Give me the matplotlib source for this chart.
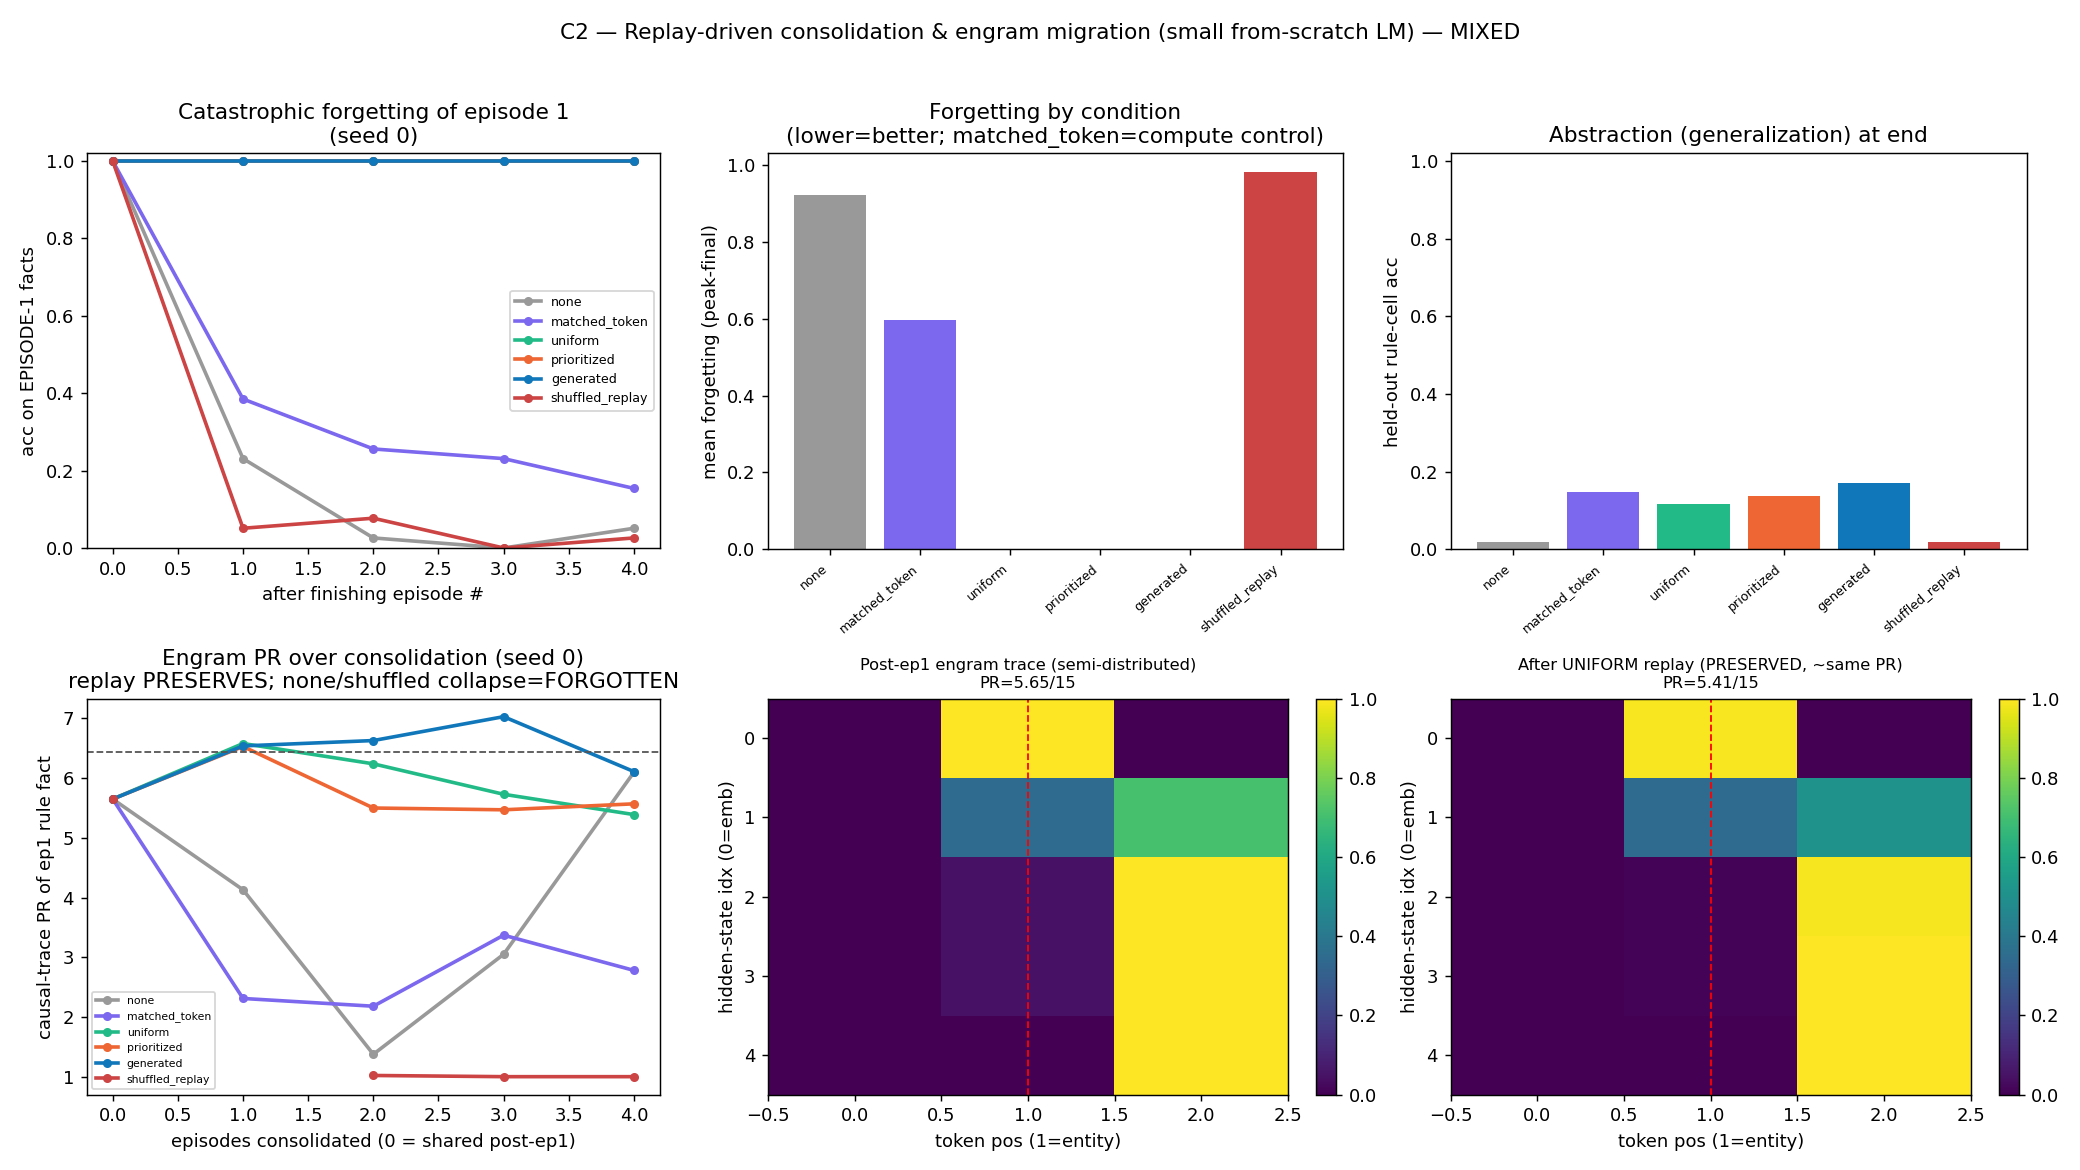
import numpy as np
import matplotlib
matplotlib.use("Agg")
import matplotlib.pyplot as plt

conditions = ["none", "matched_token", "uniform", "prioritized", "generated", "shuffled_replay"]
colors = ["#999999", "#7B68EE", "#22BB88", "#EE6633", "#1177BB", "#CC4444"]

episodes = [0, 1, 2, 3, 4]

# accuracy on episode-1 facts after each episode (seed 0)
acc_ep1 = {
    "none":            [1.0, 0.231, 0.026, 0.0, 0.051],
    "matched_token":   [1.0, 0.385, 0.256, 0.231, 0.154],
    "uniform":         [1.0, 1.0, 1.0, 1.0, 1.0],
    "prioritized":     [1.0, 1.0, 1.0, 1.0, 1.0],
    "generated":       [1.0, 1.0, 1.0, 1.0, 1.0],
    "shuffled_replay": [1.0, 0.051, 0.077, 0.0, 0.026],
}

forgetting = [0.922, 0.597, 0.0, 0.0, 0.0, 0.981]
heldout_acc = [0.02, 0.147, 0.116, 0.137, 0.170, 0.02]

# causal-trace participation ratio per consolidation step
pr_curve = {
    "none":            [5.65, 4.13, 1.375, 3.05, 6.10],
    "matched_token":   [5.65, 2.31, 2.18, 3.37, 2.78],
    "uniform":         [5.65, 6.58, 6.24, 5.73, 5.39],
    "prioritized":     [5.65, 6.53, 5.50, 5.47, 5.57],
    "generated":       [5.65, 6.54, 6.63, 7.03, 6.11],
    "shuffled_replay": [5.65, np.nan, 1.02, 1.0, 1.0],
}
pr_threshold = 6.43

trace_post_ep1 = np.array([
    [0.0, 1.00, 0.00],
    [0.0, 0.35, 0.71],
    [0.0, 0.05, 1.00],
    [0.0, 0.05, 1.00],
    [0.0, 0.00, 1.00],
])
trace_uniform = np.array([
    [0.0, 0.99, 0.00],
    [0.0, 0.35, 0.51],
    [0.0, 0.01, 0.985],
    [0.0, 0.01, 1.00],
    [0.0, 0.00, 1.00],
])
pr_post_ep1 = 5.65
pr_uniform = 5.41
entity_pos = 1

# layout boxes measured on a 1560 x 877.5 view of the target
W, H = 1560, 877.5


def place(ax, x0, y0, x1, y1):
    # pixel box (top-left origin) -> figure fraction
    ax.set_position([x0 / W, 1 - y1 / H, (x1 - x0) / W, (y1 - y0) / H])


fig, axes = plt.subplots(2, 3, figsize=(16, 9))

# forgetting curves
ax = axes[0, 0]
for c, col in zip(conditions, colors):
    ax.plot(episodes, acc_ep1[c], marker="o", ms=4, lw=2, color=col, label=c)
ax.set_ylim(0, 1.02)
ax.set_xlabel("after finishing episode #")
ax.set_ylabel("acc on EPISODE-1 facts")
ax.set_title("Catastrophic forgetting of episode 1\n(seed 0)")
ax.legend(fontsize=7)

ax = axes[0, 1]
ax.bar(conditions, forgetting, color=colors)
ax.set_ylabel("mean forgetting (peak-final)")
ax.set_title("Forgetting by condition\n(lower=better; matched_token=compute control)")
plt.setp(ax.get_xticklabels(), rotation=40, ha="right", fontsize=7)

ax = axes[0, 2]
ax.bar(conditions, heldout_acc, color=colors)
ax.set_ylim(0, 1.02)
ax.set_ylabel("held-out rule-cell acc")
ax.set_title("Abstraction (generalization) at end")
plt.setp(ax.get_xticklabels(), rotation=40, ha="right", fontsize=7)

# engram PR
ax = axes[1, 0]
for c, col in zip(conditions, colors):
    ax.plot(episodes, pr_curve[c], marker="o", ms=4, lw=2, color=col, label=c)
ax.axhline(pr_threshold, color="#555555", ls="--", lw=1)
ax.set_xlabel("episodes consolidated (0 = shared post-ep1)")
ax.set_ylabel("causal-trace PR of ep1 rule fact")
ax.set_title("Engram PR over consolidation (seed 0)\nreplay PRESERVES; none/shuffled collapse=FORGOTTEN")
ax.legend(fontsize=6, loc="lower left")

cax1 = fig.add_axes([0, 0, 0.1, 0.1])
cax2 = fig.add_axes([0, 0, 0.1, 0.1])

ax = axes[1, 1]
im = ax.imshow(trace_post_ep1, aspect="auto", cmap="viridis", vmin=0, vmax=1)
ax.axvline(entity_pos, color="red", ls="--", lw=1)
ax.set_xlabel("token pos (1=entity)")
ax.set_ylabel("hidden-state idx (0=emb)")
ax.set_title(f"Post-ep1 engram trace (semi-distributed)\nPR={pr_post_ep1:.2f}/15", fontsize=9)
fig.colorbar(im, cax=cax1)

ax = axes[1, 2]
im = ax.imshow(trace_uniform, aspect="auto", cmap="viridis", vmin=0, vmax=1)
ax.axvline(entity_pos, color="red", ls="--", lw=1)
ax.set_xlabel("token pos (1=entity)")
ax.set_ylabel("hidden-state idx (0=emb)")
ax.set_title(f"After UNIFORM replay (PRESERVED, ~same PR)\nPR={pr_uniform:.2f}/15", fontsize=9)
fig.colorbar(im, cax=cax2)

fig.suptitle("C2 — Replay-driven consolidation & engram migration (small from-scratch LM) — MIXED")

place(axes[0, 0], 65, 115, 495, 411)
place(axes[0, 1], 576, 115, 1007, 412)
place(axes[0, 2], 1088, 115, 1520, 412)
place(axes[1, 0], 65, 524, 495, 821)
place(axes[1, 1], 576, 524, 966, 821)
place(axes[1, 2], 1088, 524, 1478, 821)
place(cax1, 987, 524, 1002, 821)
place(cax2, 1499, 524, 1514, 821)

fig.savefig("out.png", dpi=130)
